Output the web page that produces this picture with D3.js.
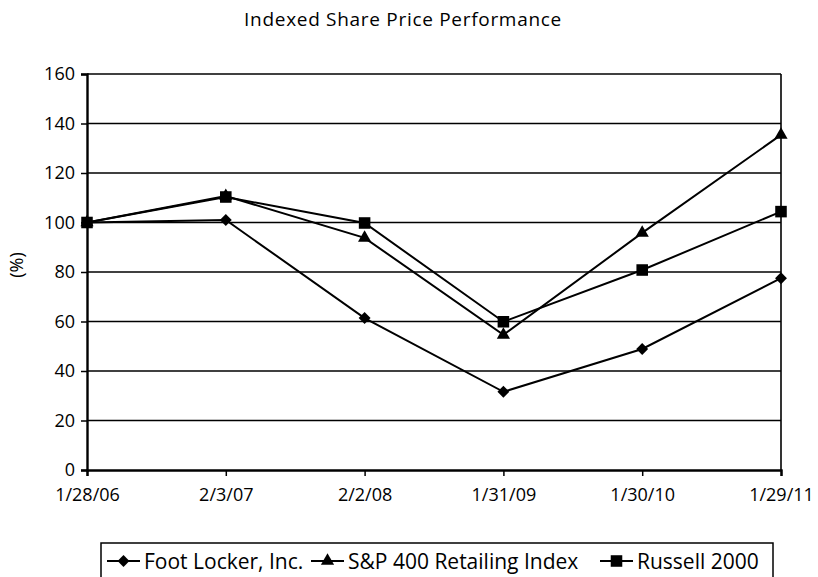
<!DOCTYPE html>
<html>
<head>
<meta charset="utf-8">
<script src="https://d3js.org/d3.v7.min.js"></script>
<style>
  body { margin: 0; background: #fff; }
  svg text { font-family: "Open Sans", sans-serif; fill: #000; }
</style>
</head>
<body>
<div id="chart"></div>
<script>
const dates = ["1/28/06", "2/3/07", "2/2/08", "1/31/09", "1/30/10", "1/29/11"];
const footLocker = [100, 101, 61.4, 31.6, 48.9, 77.5];
const spRetail = [100, 110.7, 93.8, 54.6, 95.8, 135.4];
const russell = [100, 110.3, 99.8, 59.9, 80.8, 104.4];
const yTicks = [0, 20, 40, 60, 80, 100, 120, 140, 160];

const series = [
  { name: "Foot Locker, Inc.", values: footLocker, symbol: d3.symbolDiamond2, size: 90 },
  { name: "S&P 400 Retailing Index", values: spRetail, symbol: d3.symbolTriangle2, size: 125 },
  { name: "Russell 2000", values: russell, symbol: d3.symbolSquare2, size: 170 },
];

const width = 818;
const height = 577;
const margin = { top: 74, right: 37, bottom: 107, left: 87 };

const svg = d3
  .select("#chart")
  .append("svg")
  .attr("width", width)
  .attr("height", height);

const x = d3
  .scalePoint()
  .domain(dates)
  .range([margin.left, width - margin.right]);

const y = d3
  .scaleLinear()
  .domain([0, 160])
  .range([height - margin.bottom, margin.top]);

// title
svg
  .append("text")
  .attr("x", 403)
  .attr("y", 26)
  .attr("text-anchor", "middle")
  .style("font-size", "19px")
  .style("letter-spacing", "0.7px")
  .text("Indexed Share Price Performance");

// gridlines
svg
  .append("g")
  .selectAll("line")
  .data(yTicks.filter((d) => d > 0))
  .enter()
  .append("line")
  .attr("x1", x.range()[0])
  .attr("x2", x.range()[1])
  .attr("y1", (d) => y(d))
  .attr("y2", (d) => y(d))
  .attr("stroke", "#000")
  .attr("stroke-width", 1.3);

// right border
svg
  .append("line")
  .attr("x1", x.range()[1])
  .attr("x2", x.range()[1])
  .attr("y1", y(160))
  .attr("y2", y(0))
  .attr("stroke", "#000")
  .attr("stroke-width", 1.6);

// axes
const yAxis = svg
  .append("g")
  .attr("transform", `translate(${margin.left},0)`)
  .call(d3.axisLeft(y).tickValues(yTicks).tickSize(6).tickPadding(6));

const xAxis = svg
  .append("g")
  .attr("transform", `translate(0,${y(0)})`)
  .call(d3.axisBottom(x).tickSize(6).tickPadding(12));

[yAxis, xAxis].forEach((g) => {
  g.select(".domain").attr("stroke-width", 2.4).attr("stroke", "#000");
  g.selectAll(".tick line").attr("stroke", "#000").attr("stroke-width", 1.5);
  g.selectAll("text").style("font-size", "18px").attr("fill", "#000");
});

// y label
svg
  .append("text")
  .attr("transform", "translate(23,265) rotate(-90)")
  .attr("text-anchor", "middle")
  .style("font-size", "18px")
  .text("(%)");

// lines and markers
const line = d3
  .line()
  .x((d, i) => x(dates[i]))
  .y((d) => y(d));

series.forEach((s) => {
  svg
    .append("path")
    .datum(s.values)
    .attr("d", line)
    .attr("fill", "none")
    .attr("stroke", "#000")
    .attr("stroke-width", 2);

  svg
    .append("g")
    .selectAll("path")
    .data(s.values)
    .enter()
    .append("path")
    .attr("transform", (d, i) => `translate(${x(dates[i])},${y(d)})`)
    .attr("d", d3.symbol().type(s.symbol).size(s.size))
    .attr("fill", "#000");
});

// legend
const legend = svg.append("g");
legend
  .append("rect")
  .attr("x", 101)
  .attr("y", 543)
  .attr("width", 672)
  .attr("height", 40)
  .attr("fill", "none")
  .attr("stroke", "#000")
  .attr("stroke-width", 1.5);

const legendX = [107, 311, 600];
series.forEach((s, i) => {
  const g = legend.append("g").attr("transform", `translate(${legendX[i]},561)`);
  g.append("line")
    .attr("x1", 0)
    .attr("x2", 33)
    .attr("stroke", "#000")
    .attr("stroke-width", 2);
  g.append("path")
    .attr("transform", "translate(16.5,0)")
    .attr("d", d3.symbol().type(s.symbol).size(s.size))
    .attr("fill", "#000");
  g.append("text")
    .attr("x", 37)
    .attr("y", 7.5)
    .style("font-size", "21px")
    .text(s.name);
});
</script>
</body>
</html>
